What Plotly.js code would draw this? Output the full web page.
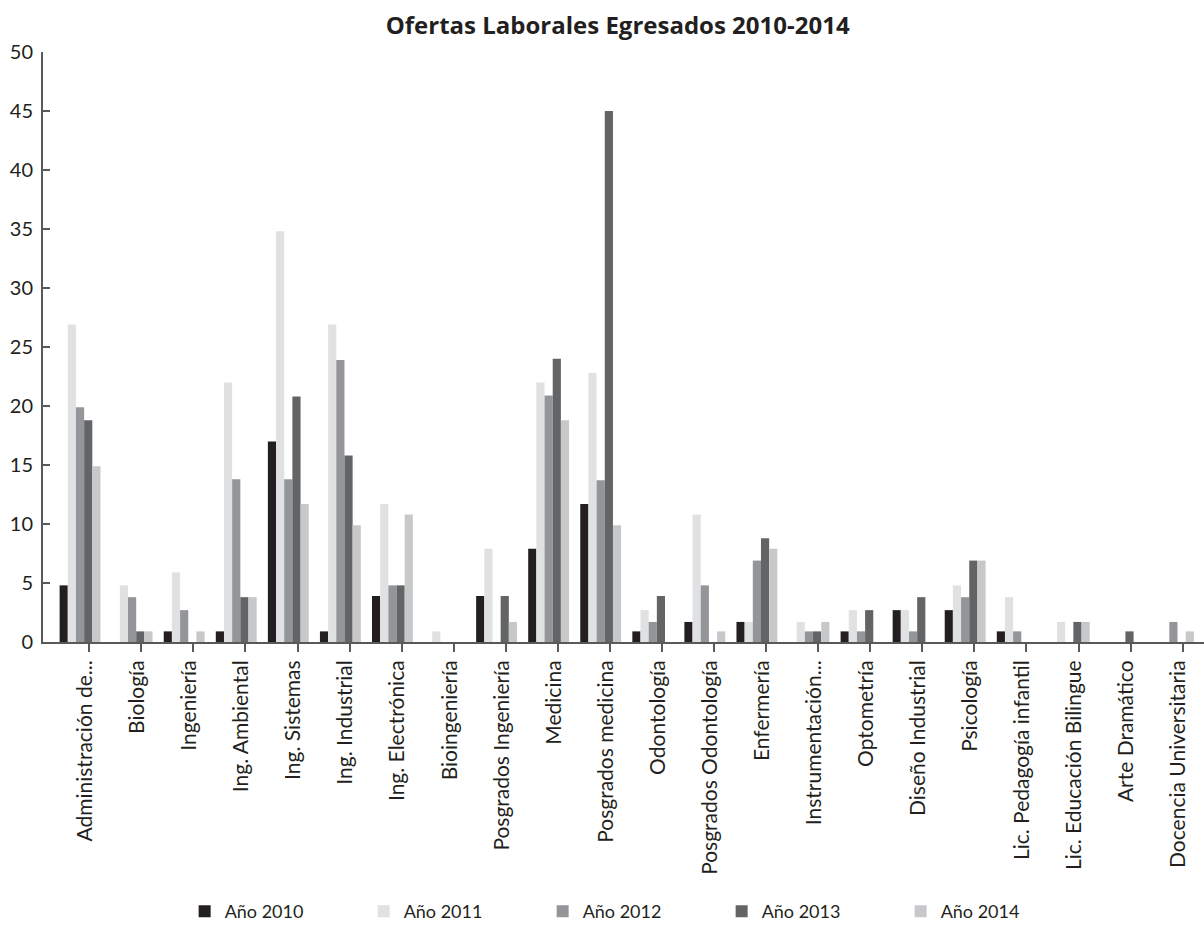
<!DOCTYPE html>
<html>
<head>
<meta charset="utf-8">
<script src="https://cdn.plot.ly/plotly-3.0.1.min.js"></script>
<style>html,body{margin:0;padding:0;background:#fff;}#chart{width:1204px;height:936px;}</style>
</head>
<body>
<div id="chart"></div>
<script>
const categories = [
  "Administración de...", "Biología", "Ingeniería", "Ing. Ambiental", "Ing. Sistemas",
  "Ing. Industrial", "Ing. Electrónica", "Bioingeniería", "Posgrados Ingeniería", "Medicina",
  "Posgrados medicina", "Odontología", "Posgrados Odontología", "Enfermería", "Instrumentación...",
  "Optometría", "Diseño Industrial", "Psicología", "Lic. Pedagogía infantil", "Lic. Educación Bilingue",
  "Arte Dramático", "Docencia Universitaria"
];
const seriesNames = ["Año 2010", "Año 2011", "Año 2012", "Año 2013", "Año 2014"];
const y2010 = [4.8, 0, 0.9, 0.9, 17.0, 0.9, 3.9, 0, 3.9, 7.9, 11.7, 0.9, 1.7, 1.7, 0, 0.9, 2.7, 2.7, 0.9, 0, 0, 0];
const y2011 = [26.9, 4.8, 5.9, 22.0, 34.8, 26.9, 11.7, 0.9, 7.9, 22.0, 22.8, 2.7, 10.8, 1.7, 1.7, 2.7, 2.7, 4.8, 3.8, 1.7, 0, 0];
const y2012 = [19.9, 3.8, 2.7, 13.8, 13.8, 23.9, 4.8, 0, 0, 20.9, 13.7, 1.7, 4.8, 6.9, 0.9, 0.9, 0.9, 3.8, 0.9, 0, 0, 1.7];
const y2013 = [18.8, 0.9, 0, 3.8, 20.8, 15.8, 4.8, 0, 3.9, 24.0, 45.0, 3.9, 0, 8.8, 0.9, 2.7, 3.8, 6.9, 0, 1.7, 0.9, 0];
const y2014 = [14.9, 0.9, 0.9, 3.8, 11.7, 9.9, 10.8, 0, 1.7, 18.8, 9.9, 0, 0.9, 7.9, 1.7, 0, 0, 6.9, 0, 1.7, 0, 0.9];
const yTicks = [0, 5, 10, 15, 20, 25, 30, 35, 40, 45, 50];
const seriesValues = [y2010, y2011, y2012, y2013, y2014];
const colors = ["#231f20", "#e0e1e3", "#939598", "#636466", "#c7c8ca"];

const FONT = "Lato, 'Open Sans', sans-serif";
const barW = 0.157;
const startOff = -0.57;

const traces = seriesNames.map((name, i) => ({
  type: "bar",
  name: name,
  x: categories,
  y: seriesValues[i],
  width: barW,
  offset: startOff + i * barW,
  marker: { color: colors[i], line: { width: 0 } },
  hoverinfo: "x+y+name"
}));

const layout = {
  width: 1204,
  height: 936,
  margin: { l: 43, r: 0, t: 52, b: 294, pad: 0, autoexpand: false },
  paper_bgcolor: "#ffffff",
  plot_bgcolor: "#ffffff",
  font: { family: FONT, color: "#231f20", size: 19 },
  title: {
    text: "<b>Ofertas Laborales Egresados 2010-2014</b>",
    font: { family: "'Open Sans', Lato, sans-serif", size: 24, color: "#231f20" },
    xref: "container", x: 0.513, xanchor: "center",
    yref: "container", y: 1 - 26 / 936, yanchor: "middle"
  },
  barmode: "group",
  showlegend: true,
  legend: {
    orientation: "h",
    xref: "paper", yref: "paper",
    x: 0.122, xanchor: "left",
    y: -0.4567, yanchor: "middle",
    entrywidth: 134, entrywidthmode: "pixels",
    font: { family: FONT, size: 18, color: "#231f20" },
    traceorder: "normal",
    itemclick: false
  },
  xaxis: {
    type: "category",
    range: [-0.889, 21.41],
    showgrid: false,
    zeroline: false,
    showline: true,
    linecolor: "#58595b",
    linewidth: 2,
    ticks: "outside",
    ticklen: 8,
    tickwidth: 1.5,
    tickcolor: "#58595b",
    tickangle: -90,
    ticklabelshift: -4,
    tickfont: { family: FONT, size: 21, color: "#231f20" },
    automargin: false,
    fixedrange: true
  },
  yaxis: {
    range: [0, 50],
    tickvals: yTicks,
    ticktext: yTicks.map(String),
    showgrid: false,
    zeroline: false,
    showline: true,
    linecolor: "#58595b",
    linewidth: 2,
    ticks: "inside",
    ticklen: 7,
    tickwidth: 1.5,
    tickcolor: "#58595b",
    ticklabelstandoff: 4,
    tickfont: { family: FONT, size: 20, color: "#231f20" },
    automargin: false,
    fixedrange: true
  }
};

Plotly.newPlot("chart", traces, layout, { displayModeBar: false, staticPlot: false });
</script>
</body>
</html>
